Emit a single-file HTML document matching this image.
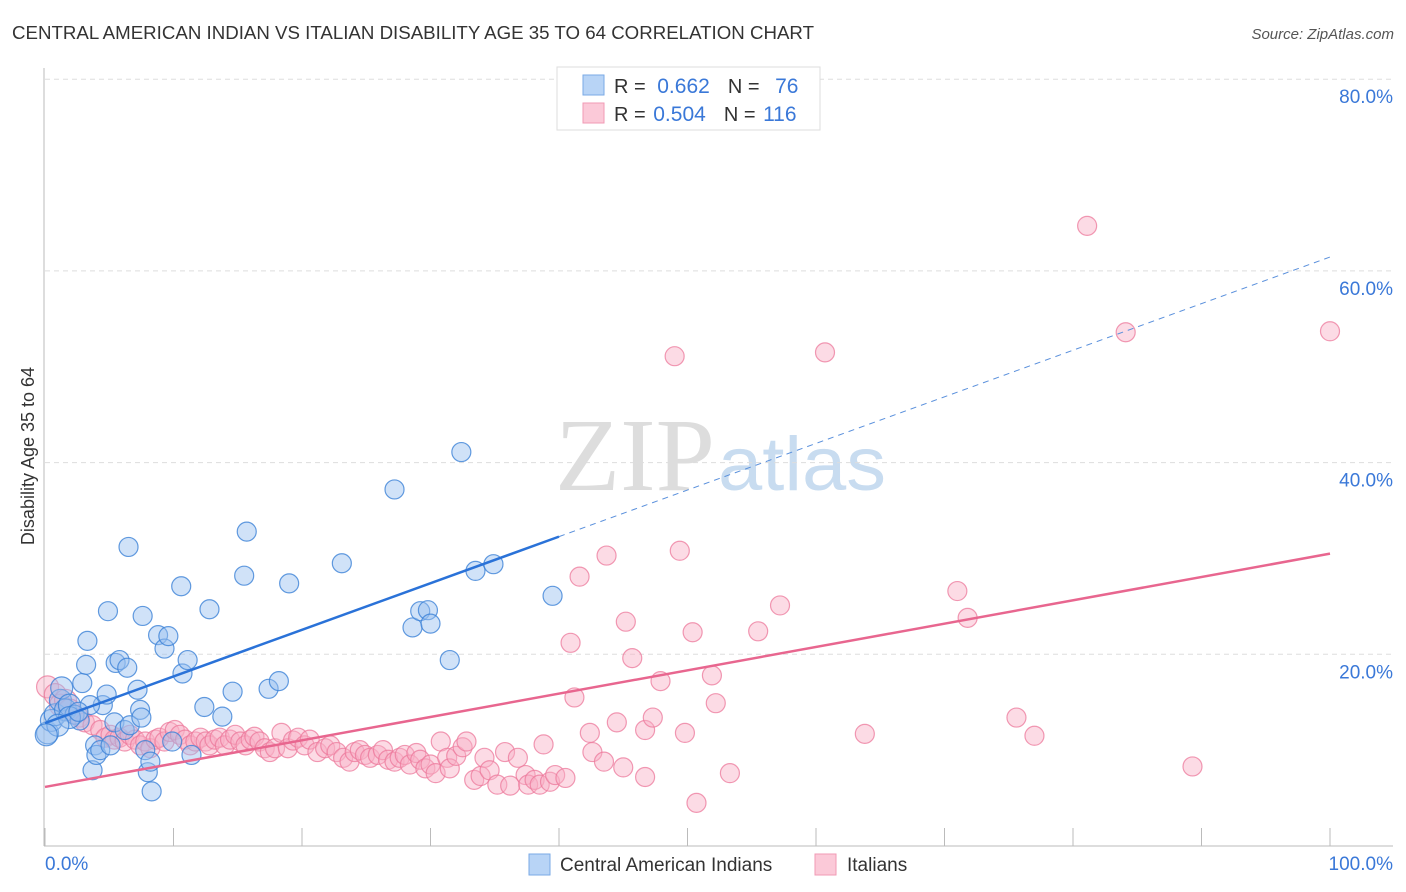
<!DOCTYPE html>
<html><head><meta charset="utf-8"><style>
body{margin:0;background:#fff;font-family:"Liberation Sans",sans-serif;}
svg{display:block}
</style></head><body>
<svg id="chart" width="1406" height="892" viewBox="0 0 1406 892">
<text x="12" y="39" font-size="18" fill="#333" textLength="802" lengthAdjust="spacingAndGlyphs">CENTRAL AMERICAN INDIAN VS ITALIAN DISABILITY AGE 35 TO 64 CORRELATION CHART</text>
<text x="1394" y="39" font-size="15" fill="#555" font-style="italic" text-anchor="end">Source: ZipAtlas.com</text>
<text x="555" y="490" font-size="104" fill="#ddd" textLength="160" lengthAdjust="spacingAndGlyphs" font-family="Liberation Serif,serif">ZIP</text>
<text x="718" y="490" font-size="76" fill="#c8dcf0" textLength="168" lengthAdjust="spacingAndGlyphs">atlas</text>
<g id="grid"></g>
<g id="axes"></g>
<text transform="translate(34,456) rotate(-90)" font-size="18" fill="#333" text-anchor="middle">Disability Age 35 to 64</text>
<g id="lines"></g>
<g id="pts"></g>
<g>
<rect x="557" y="67" width="263" height="63" fill="#fff" stroke="#ddd"/>
<rect x="583" y="75" width="21" height="20" fill="#b8d4f6" stroke="#7aaae6"/>
<rect x="583" y="103" width="21" height="20" fill="#fbc9d8" stroke="#f09ab4"/>
<text x="614" y="93" font-size="20" fill="#333">R = <tspan fill="#3a78d8" dx="6" font-size="21">0.662</tspan><tspan dx="18" fill="#333">N = </tspan><tspan dx="10" fill="#3a78d8" font-size="21">76</tspan></text>
<text x="614" y="121" font-size="20" fill="#333">R = <tspan fill="#3a78d8" dx="2" font-size="21">0.504</tspan><tspan dx="18" fill="#333">N = </tspan><tspan dx="2" fill="#3a78d8" font-size="21">116</tspan></text>
</g>
<g>
<rect x="529" y="854" width="21" height="21" fill="#b8d4f6" stroke="#7aaae6"/>
<text x="560" y="871" font-size="19" fill="#333">Central American Indians</text>
<rect x="815" y="854" width="21" height="21" fill="#fbc9d8" stroke="#f09ab4"/>
<text x="847" y="871" font-size="19" fill="#333">Italians</text>
</g>
</svg>
<script>
const blueX=[0.2,0.5,0.8,1.2,1.3,1.6,1.9,2.3,2.7,2.9,3.2,3.3,3.7,3.9,4.0,4.3,4.5,4.8,4.9,5.1,5.4,5.5,5.8,6.2,6.4,6.5,6.6,7.2,7.4,7.5,7.6,7.8,8.0,8.2,8.3,8.8,9.3,9.6,9.9,10.6,10.7,11.1,11.4,12.4,12.8,13.8,14.6,15.5,15.7,17.4,18.2,19.0,23.1,27.2,28.6,29.2,29.8,30.0,31.5,32.4,33.5,34.9,39.5,1.9,1.0,0.1,3.5,2.6];
const blueY=[11.8,13.1,13.7,15.2,16.5,14.2,14.7,13.7,13.1,17.0,18.9,21.4,7.9,10.5,9.5,10.0,14.7,15.8,24.5,10.5,12.9,19.1,19.4,12.1,18.6,31.2,12.6,16.3,14.2,13.4,24.0,10.0,7.7,8.8,5.7,22.0,20.6,21.9,10.9,27.1,18.0,19.4,9.5,14.5,24.7,13.5,16.1,28.2,32.8,16.4,17.2,27.4,29.5,37.2,22.8,24.5,24.6,23.2,19.4,41.1,28.7,29.4,26.1,13.4,12.6,11.6,14.7,14.0];
const pinkX=[0.2,0.8,1.2,1.6,1.9,2.3,2.7,3.1,3.7,4.3,4.7,5.1,5.4,5.8,6.2,6.6,7.0,7.4,7.8,8.2,8.6,8.9,9.3,9.7,10.1,10.5,10.9,11.3,11.7,12.1,12.5,12.8,13.2,13.6,14.0,14.4,14.8,15.2,15.6,16.0,16.3,16.7,17.1,17.5,17.9,18.4,18.9,19.3,19.7,20.2,20.6,21.2,21.8,22.2,22.7,23.2,23.7,24.1,24.5,24.9,25.3,25.9,26.3,26.7,27.2,27.6,28.0,28.4,28.9,29.2,29.6,30.0,30.4,30.8,31.3,31.5,32.0,32.5,32.8,33.4,33.9,34.2,34.6,35.2,35.8,36.2,36.8,37.4,37.6,38.1,38.5,38.8,39.3,39.7,40.5,40.9,41.2,41.6,42.4,42.6,43.5,43.7,44.5,45.0,45.2,45.7,46.7,46.7,47.3,47.9,49.0,49.4,49.8,50.4,50.7,51.9,52.2,53.3,55.5,57.2,60.7,63.8,71.0,71.8,75.6,77.0,81.1,84.1,89.3,100.0];
const pinkY=[16.6,15.8,14.7,15.2,14.2,13.7,13.4,12.9,12.6,12.1,11.3,11.6,11.1,11.3,10.9,11.6,11.1,10.5,10.9,10.2,11.1,11.3,10.9,11.9,12.1,11.6,11.1,10.5,10.9,11.3,10.9,10.5,11.1,11.3,10.5,11.1,11.6,10.9,10.5,11.1,11.4,10.9,10.2,9.8,10.2,11.8,10.2,11.0,11.3,10.5,11.1,9.8,10.2,10.5,9.8,9.2,8.8,9.8,10.0,9.5,9.2,9.5,10.0,9.0,8.8,9.2,9.5,8.5,9.7,9.0,8.1,8.5,7.6,10.9,9.2,8.1,9.4,10.3,10.9,6.9,7.3,9.2,7.9,6.4,9.8,6.3,9.2,7.4,6.4,6.9,6.4,10.6,6.7,7.4,7.1,21.2,15.5,28.1,11.8,9.8,8.8,30.3,12.9,8.2,23.4,19.6,12.1,7.2,13.4,17.2,51.1,30.8,11.8,22.3,4.5,17.8,14.9,7.6,22.4,25.1,51.5,11.7,26.6,23.8,13.4,11.5,64.7,53.6,8.3,53.7];
const blueTrend=[12.83,61.45];
const pinkTrend=[6.16,30.5];
const yTicks=[20,40,60,80];
const yTickLabels=["20.0%","40.0%","60.0%","80.0%"];
const xTicks=[0,10,20,30,40,50,60,70,80,90,100];

const NS="http://www.w3.org/2000/svg";
const sx=v=>45+v*12.85;
const sy=v=>846-v*9.585;
function mk(tag,attrs,parent){const e=document.createElementNS(NS,tag);for(const k in attrs)e.setAttribute(k,attrs[k]);parent.appendChild(e);return e;}
const grid=document.getElementById('grid'),axes=document.getElementById('axes'),lines=document.getElementById('lines'),pts=document.getElementById('pts');
yTicks.forEach((t,i)=>{
 const l=mk('line',{x1:45,x2:1393,y1:sy(t),y2:sy(t),stroke:'#ddd','stroke-dasharray':'5,4'},grid);
 
 
 const tx=mk('text',{x:1393,y:sy(t)+24,'font-size':19,fill:'#3a78d8','text-anchor':'end'},grid);
 tx.textContent=yTickLabels[i];
 
 
});
let a=mk('line',{x1:44,x2:44,y1:68,y2:846,stroke:'#bbb'},axes);


a=mk('line',{x1:44,x2:1393,y1:846,y2:846,stroke:'#bbb'},axes);


xTicks.forEach(t=>{
 const l=mk('line',{x1:sx(t),x2:sx(t),y1:828,y2:846,stroke:'#bbb'},axes);
 
 
});
let t0=mk('text',{x:45,y:870,'font-size':19,fill:'#3a78d8'},axes);t0.textContent='0.0%';


let t1=mk('text',{x:1393,y:870,'font-size':19,fill:'#3a78d8','text-anchor':'end'},axes);t1.textContent='100.0%';



function drawPts(X,Y,fill,stroke,name){
 X.forEach((x,i)=>{
  const r=(x<2?11:9.5);
  const c=mk('circle',{cx:sx(x),cy:sy(Y[i]),r:r,fill:fill,stroke:stroke,'stroke-width':1.2},pts);
  
  
 });
}
drawPts(pinkX,pinkY,'rgba(248,175,198,0.45)','rgba(236,120,155,0.75)','italian-point');
drawPts(blueX,blueY,'rgba(150,190,240,0.45)','rgba(60,130,215,0.8)','central-american-point');

const by=x=>blueTrend[0]+(blueTrend[1]-blueTrend[0])*x/100;
const py=x=>pinkTrend[0]+(pinkTrend[1]-pinkTrend[0])*x/100;
let l=mk('line',{x1:sx(0),y1:sy(by(0)),x2:sx(40),y2:sy(by(40)),stroke:'#2a72d8','stroke-width':2.5},lines);


l=mk('line',{x1:sx(40),y1:sy(by(40)),x2:sx(100),y2:sy(by(100)),stroke:'#5a90dc','stroke-width':1,'stroke-dasharray':'6,5'},lines);


l=mk('line',{x1:sx(0),y1:sy(py(0)),x2:sx(100),y2:sy(py(100)),stroke:'#e8668f','stroke-width':2.5},lines);


document.getElementById('chart').appendChild(lines);
</script>
</body></html>
